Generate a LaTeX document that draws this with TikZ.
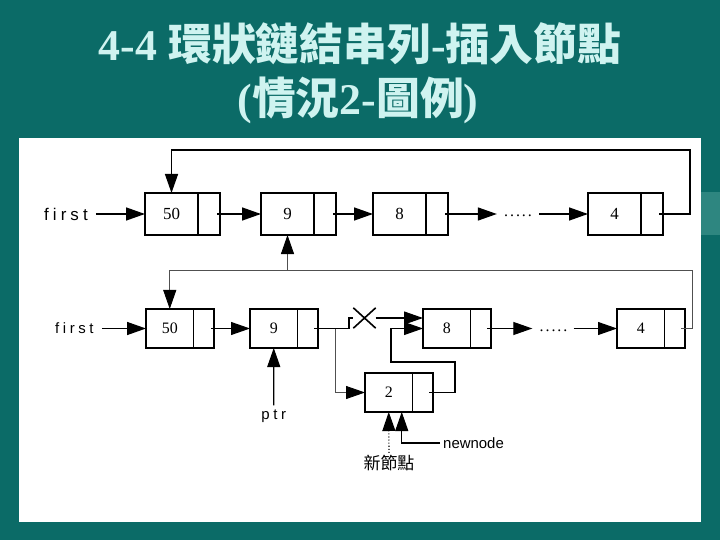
\documentclass[tikz,border=0pt]{standalone}
\usepackage{fontspec}
\setmainfont{Liberation Serif}
\newfontfamily\cjk{Noto Sans CJK TC}
\newfontfamily\lblfont[LetterSpace=24]{Liberation Sans}
\newfontfamily\plainsans{Liberation Sans}
\usetikzlibrary{arrows.meta}
\definecolor{teal0}{HTML}{0B6B67}
\definecolor{teallight}{HTML}{2E8680}
\definecolor{titlec}{HTML}{CFF3F0}
\definecolor{loopgray}{HTML}{505050}
\tikzset{
 cellA/.style={draw, line width=1.8bp, minimum height=42bp, inner sep=0pt, outer sep=0pt, font=\fontsize{17}{17}\selectfont},
 dataA/.style={cellA, minimum width=53bp, anchor=west},
 ptrA/.style={cellA, minimum width=22bp, anchor=west},
 cellB/.style={draw, line width=1.8bp, minimum height=39bp, inner sep=0pt, outer sep=0pt, font=\fontsize{16}{16}\selectfont},
 dataB/.style={cellB, minimum width=47.5bp, anchor=west},
 ptrB/.style={cellB, minimum width=20.5bp, anchor=west},
 bighead/.style={-{Triangle[length=19bp,width=13bp,color=black]}},
 arr/.style={bighead, line width=1.4bp},
 thinarr/.style={bighead, line width=1.1bp},
 loopline/.style={line width=0.9bp, draw=loopgray},
 lblA/.style={font=\lblfont\fontsize{17}{17}\selectfont, inner sep=0pt},
 lblB/.style={font=\lblfont\fontsize{15}{15}\selectfont, inner sep=0pt},
 dotsnode/.style={font=\fontsize{16}{16}\selectfont, inner sep=0pt},
 titlenode/.style={text=titlec, inner sep=0pt, font=\fontsize{44}{44}\selectfont},
}
\newcommand{\dotrow}{.\kern2bp.\kern2bp.\kern2bp.\kern2bp.}
\begin{document}
\begin{tikzpicture}[x=1bp,y=-1bp]
\useasboundingbox (0,0) rectangle (720,540);
\fill[teal0] (0,0) rectangle (720,540);
\fill[teallight] (701,192) rectangle (720,235);
\fill[white] (19,138) rectangle (701,522);

% title
\node[titlenode] (title1) at (360,44) {\bfseries 4-4 {\cjk 環狀鏈結串列}-{\cjk 插入節點}};
\node[titlenode] (title2) at (358,100) {\bfseries ({\cjk 情況}2-{\cjk 圖例})};

% ---------- row 1 ----------
\node[lblA, anchor=west] (f1) at (44,214) {first};
\node[dataA] (a1) at (145,214) {50};
\node[ptrA] (a1p) at (a1.east) {};
\node[dataA] (a2) at (261,214) {9};
\node[ptrA] (a2p) at (a2.east) {};
\node[dataA] (a3) at (373,214) {8};
\node[ptrA] (a3p) at (a3.east) {};
\node[dotsnode] (d1) at (518,216) {\dotrow};
\node[dataA] (a4) at (588,214) {4};
\node[ptrA] (a4p) at (a4.east) {};

\draw[arr] ([xshift=8bp]f1.east) -- (a1.west);
\draw[arr] ([xshift=-3bp]a1p.east) -- (a2.west);
\draw[arr] ([xshift=-3bp]a2p.east) -- (a3.west);
\draw[arr] ([xshift=-3bp]a3p.east) -- ([xshift=-7bp]d1.west |- a3p.east);
\draw[arr] ([xshift=7bp]d1.east |- a4.west) -- (a4.west);
\coordinate (t1) at (690,150);
\draw[arr] ([xshift=-4bp]a4p.east) -| (t1) -| (a1.north);

% ---------- row 2 ----------
\node[lblB, anchor=west] (f2) at (55,328.5) {first};
\node[dataB] (b1) at (146,328.5) {50};
\node[ptrB] (b1p) at (b1.east) {};
\node[dataB] (b2) at (250,328.5) {9};
\node[ptrB] (b2p) at (b2.east) {};
\node[dataB] (b3) at (423,328.5) {8};
\node[ptrB] (b3p) at (b3.east) {};
\node[dotsnode] (d2) at (553.5,330.5) {\dotrow};
\node[dataB] (b4) at (617,328.5) {4};
\node[ptrB] (b4p) at (b4.east) {};
\node[dataB] (c) at (365,392.5) {2};
\node[ptrB] (cp) at (c.east) {};

\draw[arr] ([xshift=8bp]f2.east) -- (b1.west);
\draw[thinarr] ([xshift=-3bp]b1p.east) -- (b2.west);

% broken old link
\node[minimum width=22bp, minimum height=20bp, inner sep=0pt] (xm) at (364.5,318) {};
\draw[line width=1.6bp] (xm.north west) -- (xm.south east) (xm.south west) -- (xm.north east);
\coordinate (k1) at (349,318);
\draw[line width=1.2bp] ([xshift=-4bp]b2p.east) -| (k1) -- (xm.west);
\draw[thinarr] (xm.east) -- (xm.east -| b3.west);

% link from node 9 to new node
\coordinate (br) at (335,328.5);
\draw[loopline, bighead] (br) |- (c.west);

% link from new node to node 8
\coordinate (q1) at (455,362);
\coordinate (q2) at (391,328.5);
\draw[thinarr] ([xshift=-4bp]cp.east) -| (q1) -| (q2) -- (b3.west);

\draw[thinarr] ([xshift=-4bp]b3p.east) -- ([xshift=-7bp]d2.west |- b3p.east);
\draw[thinarr] ([xshift=6bp]d2.east |- b4.west) -- (b4.west);

% loop row 2
\coordinate (t2) at (692,270);
\draw[loopline, bighead] ([xshift=-4bp]b4p.east) -| (t2) -| (b1.north);
\coordinate (u1) at (a2.south |- t2);
\draw[loopline, bighead] (u1) -- (a2.south);

% ptr
\node[lblB] (ptr) at (273.75,416) {ptr};
\draw[thinarr] ([yshift=4bp]ptr.north) -- (b2.south);

% new node pointers
\node[font=\cjk\fontsize{17}{17}\selectfont, inner sep=0pt] (nn) at (389,463) {新節點};
\draw[thinarr, dotted] ([yshift=2bp]nn.north) -- (c.south);
\node[font=\plainsans\fontsize{15}{15}\selectfont, inner sep=0pt, anchor=west] (nw) at (443,443) {newnode};
\draw[thinarr] ([xshift=-3bp]nw.west) -| ([xshift=13bp]c.south);
\end{tikzpicture}
\end{document}
